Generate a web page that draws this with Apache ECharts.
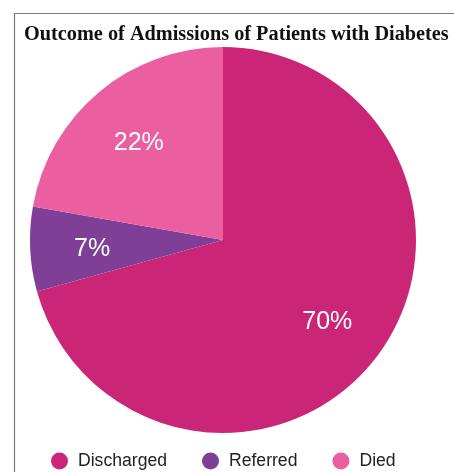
<!DOCTYPE html>
<html>
<head>
<meta charset="utf-8">
<script src="https://cdn.jsdelivr.net/npm/echarts@6/dist/echarts.min.js"></script>
<style>
  html, body { margin: 0; padding: 0; background: #fff; }
  #chart { width: 454px; height: 472px; }
</style>
</head>
<body>
<div id="chart"></div>
<script>
// Admission outcomes (percent of admissions)
const outcomes = ['Discharged', 'Referred', 'Died'];
const shares = [70, 7, 22];
const sliceColors = ['#CB2577', '#7F3F96', '#EB5EA0'];

const pieData = outcomes.map((name, i) => ({
  name: name,
  value: shares[i],
  itemStyle: { color: sliceColors[i] }
}));

const chart = echarts.init(document.getElementById('chart'), null, { renderer: 'canvas' });

chart.setOption({
  animation: false,
  backgroundColor: '#ffffff',
  title: {
    text: 'Outcome of Admissions of Patients with Diabetes',
    left: 19,
    top: 20,
    textStyle: {
      fontFamily: 'Liberation Serif',
      fontWeight: 'bold',
      fontSize: 20.3,
      color: '#111'
    }
  },
  legend: {
    data: outcomes,
    top: 447,
    left: 46,
    icon: 'circle',
    itemWidth: 17,
    itemHeight: 17,
    itemGap: 35,
    textStyle: {
      fontFamily: 'Liberation Sans',
      fontSize: 17.6,
      color: '#222',
      padding: [0, 0, 0, 5]
    }
  },
  graphic: [{
    type: 'polyline',
    silent: true,
    shape: { points: [[14.5, 472], [14.5, 13.5], [454, 13.5]] },
    style: { stroke: '#7a7a7a', lineWidth: 1.2, fill: null }
  }],
  series: [
    {
      // the filled slices
      type: 'pie',
      center: [223, 240],
      radius: [0, 193],
      startAngle: 90,
      clockwise: true,
      data: pieData,
      label: { show: false },
      labelLine: { show: false },
      emphasis: { disabled: true }
    },
    {
      // transparent ring that carries the percentage labels further out
      type: 'pie',
      center: [223, 243],
      radius: [0, 256],
      startAngle: 90,
      clockwise: true,
      silent: true,
      data: outcomes.map((name, i) => ({ name: name, value: shares[i] })),
      itemStyle: { color: 'rgba(0,0,0,0)' },
      label: {
        show: true,
        position: 'inside',
        formatter: '{c}%',
        color: '#ffffff',
        fontFamily: 'Liberation Sans',
        fontSize: 25
      },
      labelLine: { show: false },
      emphasis: { disabled: true }
    }
  ]
});
</script>
</body>
</html>
